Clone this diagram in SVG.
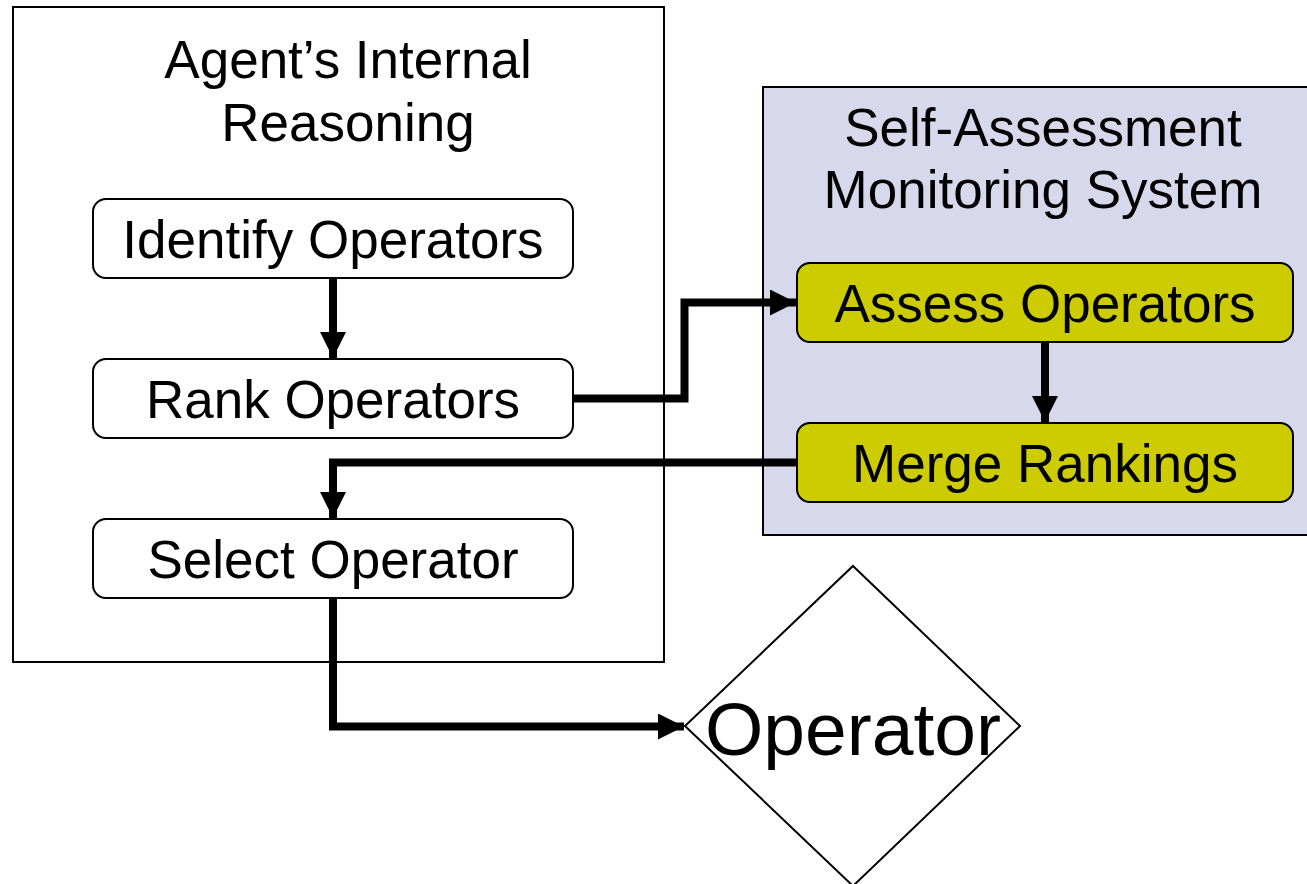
<svg xmlns="http://www.w3.org/2000/svg" width="1307" height="884" viewBox="0 0 1307 884">
  <style>
    text { font-family: "Liberation Sans", Arial, sans-serif; font-size: 53px; fill: #000; text-anchor: middle; }
    .frame { fill: #fff; stroke: #000; stroke-width: 2; }
    .panel { fill: #d7d8ec; stroke: #000; stroke-width: 2; }
    .step { fill: #fff; stroke: #000; stroke-width: 2; }
    .monitor { fill: #cccc00; stroke: #000; stroke-width: 2; }
    .flow { fill: none; stroke: #000; stroke-width: 8; stroke-linejoin: miter; }
  </style>
  <defs>
    <marker id="head" markerUnits="userSpaceOnUse" markerWidth="28" markerHeight="28" refX="26" refY="13" orient="auto">
      <path d="M0,0 L26,13 L0,26 Z" fill="#000"/>
    </marker>
  </defs>
  <rect width="1307" height="884" fill="#fff"/>

  <!-- container: agent reasoning -->
  <g id="agent-reasoning">
    <rect class="frame" x="13" y="7" width="651" height="655"/>
    <text x="348" y="78">Agent’s Internal</text>
    <text x="348" y="141">Reasoning</text>
  </g>

  <!-- container: monitoring system -->
  <g id="monitoring-system">
    <rect class="panel" x="763" y="87" width="560" height="448"/>
    <text x="1043" y="146">Self-Assessment</text>
    <text x="1043" y="208">Monitoring System</text>
  </g>

  <g id="identify-operators">
    <rect class="step" x="93" y="199" width="480" height="79" rx="13"/>
    <text x="333" y="258">Identify Operators</text>
  </g>
  <g id="rank-operators">
    <rect class="step" x="93" y="359" width="480" height="79" rx="13"/>
    <text x="333" y="418">Rank Operators</text>
  </g>
  <g id="select-operator">
    <rect class="step" x="93" y="519" width="480" height="79" rx="13"/>
    <text x="333" y="578">Select Operator</text>
  </g>
  <g id="assess-operators">
    <rect class="monitor" x="797" y="263" width="496" height="79" rx="13"/>
    <text x="1045" y="322">Assess Operators</text>
  </g>
  <g id="merge-rankings">
    <rect class="monitor" x="797" y="423" width="496" height="79" rx="13"/>
    <text x="1045" y="482">Merge Rankings</text>
  </g>
  <g id="operator">
    <polygon points="853,566 1020,726 853,886 685,726" fill="#fff" stroke="#000" stroke-width="2"/>
    <text x="853" y="755" style="font-size:75px">Operator</text>
  </g>

  <!-- connectors -->
  <g id="connectors">
    <path class="flow" d="M333,278 V358" marker-end="url(#head)"/>
    <path class="flow" d="M573,398.5 H684.5 V302.5 H796" marker-end="url(#head)"/>
    <path class="flow" d="M1045,342 V422" marker-end="url(#head)"/>
    <path class="flow" d="M797,462.5 H333 V518" marker-end="url(#head)"/>
    <path class="flow" d="M333,598 V726.5 H684" marker-end="url(#head)"/>
  </g>
</svg>
